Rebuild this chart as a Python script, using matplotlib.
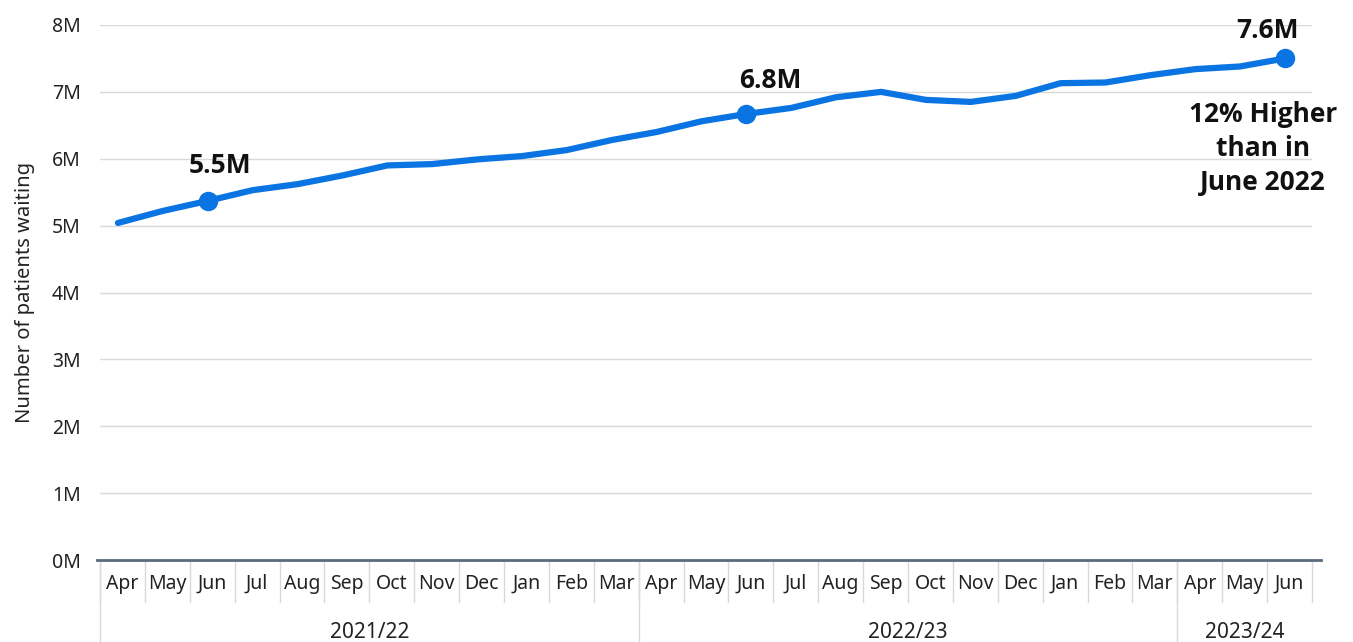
import matplotlib
matplotlib.use("Agg")
import matplotlib.pyplot as plt
import matplotlib.transforms as mtransforms

plt.rcParams['font.family'] = ['Noto Sans', 'DejaVu Sans']

months = ["Apr", "May", "Jun", "Jul", "Aug", "Sep", "Oct", "Nov", "Dec", "Jan", "Feb", "Mar",
          "Apr", "May", "Jun", "Jul", "Aug", "Sep", "Oct", "Nov", "Dec", "Jan", "Feb", "Mar",
          "Apr", "May", "Jun"]
years = ["2021/22", "2022/23", "2023/24"]
year_counts = [12, 12, 3]
waiting_m = [5.04, 5.22, 5.37, 5.53, 5.62, 5.75, 5.90, 5.92, 5.99, 6.04, 6.13, 6.28,
             6.40, 6.56, 6.67, 6.76, 6.92, 7.00, 6.88, 6.85, 6.94, 7.13, 7.14, 7.25,
             7.34, 7.38, 7.50]
highlight_idx = [2, 14, 26]
highlight_labels = ["5.5M", "6.8M", "7.6M"]
yticks = [0, 1, 2, 3, 4, 5, 6, 7, 8]
ytick_labels = ["0M", "1M", "2M", "3M", "4M", "5M", "6M", "7M", "8M"]

blue = "#0B74E3"
W, H = 1353, 642
fig = plt.figure(figsize=(W / 100, H / 100), dpi=100)
ax = fig.add_axes([100 / W, 1 - 560 / H, 1212 / W, 535 / H])

bold_font = dict(family=['Open Sans', 'DejaVu Sans'], fontweight='bold')
shift = 0.1  # category cells sit slightly right of the points

x = list(range(len(months)))
ax.plot(x, waiting_m, color=blue, lw=4.5, solid_capstyle='round', zorder=3, clip_on=False)
ax.plot([x[i] for i in highlight_idx], [waiting_m[i] for i in highlight_idx], 'o',
        color=blue, ms=13, zorder=4, clip_on=False)
offsets = [(9, 20), (17, 19), (-13, 15)]
for i, lab, off in zip(highlight_idx, highlight_labels, offsets):
    ax.annotate(lab, (x[i], waiting_m[i]), xytext=off, textcoords='offset points',
                ha='center', va='baseline', fontsize=19, color='#111111',
                annotation_clip=False, **bold_font)
ax.annotate("12% Higher\nthan in\nJune 2022", (x[-1], waiting_m[-1]), xytext=(-16, -31),
            textcoords='offset points', ha='center', va='top', fontsize=19,
            color='#111111', linespacing=1.32, annotation_clip=False, **bold_font)

ax.set_xlim(-0.5 + shift, len(months) - 0.5 + shift)
ax.set_ylim(0, 8)
ax.set_yticks(yticks)
ax.set_yticklabels(ytick_labels, fontsize=14, color='#222222')
ax.tick_params(axis='y', length=0, pad=14)
ax.grid(axis='y', color='#d9d9d9', lw=1)
ax.set_axisbelow(True)
for s in ['top', 'right', 'left']:
    ax.spines[s].set_visible(False)
ax.spines['bottom'].set_color('#5b6b7c')
ax.spines['bottom'].set_linewidth(2)
ax.spines['bottom'].set_bounds(-0.57 + shift, len(months) - 0.3 + shift)
ax.set_xticks([])
ax.set_ylabel("Number of patients waiting", fontsize=14.5, color='#222222', labelpad=12)

trans = mtransforms.blended_transform_factory(ax.transData, ax.transAxes)
px = 1 / 535  # one pixel in axes units (vertical)
for i, m in enumerate(months):
    ax.text(i + shift, -24 * px, m, transform=trans, ha='center', va='center', fontsize=14,
            color='#222222', clip_on=False)
for i in range(len(months) + 1):
    ax.plot([i - 0.5 + shift] * 2, [-2 * px, -42 * px], transform=trans, color='#d9d9d9',
            lw=1, clip_on=False)
start = 0
for yr, n in zip(years, year_counts):
    ax.plot([start - 0.5 + shift] * 2, [-2 * px, -82 * px], transform=trans,
            color='#d9d9d9', lw=1, clip_on=False)
    ax.text(start - 0.5 + shift + n / 2, -72 * px, yr, transform=trans, ha='center',
            va='center', fontsize=15, color='#222222', clip_on=False)
    start += n

fig.savefig("out.png", dpi=100)
